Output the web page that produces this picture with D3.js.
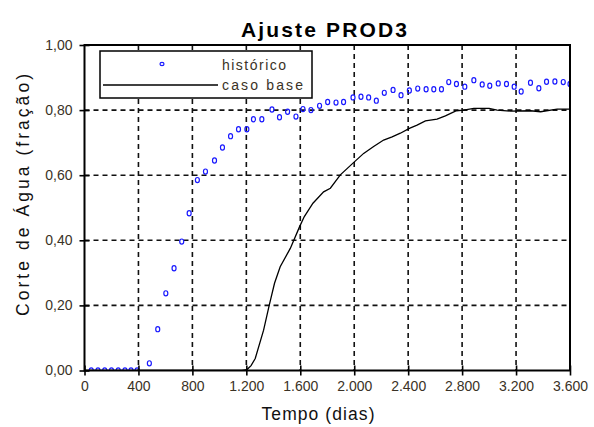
<!DOCTYPE html>
<html><head><meta charset="utf-8">
<script src="https://cdn.jsdelivr.net/npm/d3@7"></script>
<style>body{margin:0;background:#fff}svg{display:block}</style>
</head><body>
<svg id="c" width="594" height="427"></svg>
<script>
const histT = [50,100,150,200,250,300,345,390,481,543,603,664,721,776,837,897,964,1023,1083,1142,1204,1253,1315,1390,1446,1506,1568,1620,1679,1743,1803,1865,1921,1991,2050,2107,2164,2223,2288,2347,2409,2471,2533,2590,2647,2701,2758,2820,2887,2949,3005,3068,3129,3186,3238,3307,3369,3426,3488,3550,3600];
const histV = [0,0,0,0,0,0,0,0,0.022,0.127,0.237,0.314,0.396,0.483,0.585,0.611,0.645,0.685,0.720,0.741,0.741,0.772,0.772,0.802,0.778,0.795,0.780,0.803,0.800,0.813,0.825,0.823,0.825,0.839,0.841,0.839,0.829,0.853,0.862,0.846,0.860,0.866,0.864,0.864,0.864,0.886,0.880,0.872,0.892,0.879,0.875,0.882,0.880,0.872,0.857,0.884,0.867,0.887,0.888,0.886,0.880];
const baseT = [0,1167,1205,1235,1266,1328,1370,1409,1451,1526,1595,1630,1694,1773,1823,1897,2001,2070,2144,2218,2281,2342,2409,2466,2528,2614,2676,2758,2812,2887,3000,3060,3159,3307,3382,3505,3600];
const baseV = [0,0,0.003,0.015,0.037,0.124,0.201,0.268,0.319,0.375,0.442,0.473,0.514,0.549,0.560,0.601,0.641,0.667,0.688,0.708,0.718,0.729,0.744,0.754,0.767,0.772,0.782,0.798,0.800,0.805,0.805,0.800,0.797,0.798,0.795,0.803,0.803];
const xTicks = [0,400,800,1200,1600,2000,2400,2800,3200,3600];
const xLabels = ["0","400","800","1.200","1.600","2.000","2.400","2.800","3.200","3.600"];
const yTicks = [0,0.2,0.4,0.6,0.8,1.0];
const yLabels = ["0,00","0,20","0,40","0,60","0,80","1,00"];
const seriesNames = ["histórico","caso base"];
const titleText = "Ajuste PROD3";
const xTitle = "Tempo (dias)";
const yTitle = "Corte de Água (fração)";

const svg = d3.select("#c");
const L = 84.5, R = 570, T = 45, B = 370.5;
const x = d3.scaleLinear().domain([0,3600]).range([L,R]);
const y = d3.scaleLinear().domain([0,1]).range([B,T]);
const font = "Arial, 'Liberation Sans', sans-serif";
const labCol = "#3a3226";

svg.append("defs").append("clipPath").attr("id","clip")
  .append("rect").attr("x",L).attr("y",T).attr("width",R-L).attr("height",B-T);

// grid
const g = svg.append("g");
g.selectAll("line.vg").data(xTicks.slice(1,-1)).join("line")
  .attr("x1",d=>x(d)).attr("x2",d=>x(d)).attr("y1",T).attr("y2",B)
  .attr("stroke","#111").attr("stroke-width",1.6).attr("stroke-dasharray","5,4");
g.selectAll("line.hg").data(yTicks.slice(1,-1)).join("line")
  .attr("x1",L).attr("x2",R).attr("y1",d=>y(d)).attr("y2",d=>y(d))
  .attr("stroke","#111").attr("stroke-width",1.6).attr("stroke-dasharray","5,4");

// base line
const line = d3.line().x((d,i)=>x(baseT[i])).y((d,i)=>y(baseV[i]));
svg.append("path").datum(baseV).attr("d",line).attr("fill","none")
  .attr("stroke","#000").attr("stroke-width",1.3).attr("clip-path","url(#clip)");

// historic markers
svg.append("g").attr("clip-path","url(#clip)").selectAll("ellipse").data(histV).join("ellipse")
  .attr("cx",(d,i)=>x(histT[i])).attr("cy",d=>y(d)).attr("rx",2).attr("ry",2.6)
  .attr("fill","none").attr("stroke","#1a1aff").attr("stroke-width",1.2);

// frame
svg.append("rect").attr("x",L).attr("y",T).attr("width",R-L).attr("height",B-T)
  .attr("fill","none").attr("stroke","#000").attr("stroke-width",2);

// axes
const xAxis = d3.axisBottom(x).tickValues(xTicks).tickFormat((d,i)=>xLabels[i]).tickSizeInner(6).tickSizeOuter(0).tickPadding(5);
const xa = svg.append("g").attr("transform",`translate(0,${B})`).call(xAxis);
xa.select(".domain").remove();
xa.selectAll(".tick line").attr("y1",-5).attr("y2",5).attr("stroke","#000").attr("stroke-width",1.6);
xa.selectAll("text").attr("font-family",font).attr("font-size",14).attr("fill",labCol);

const yAxis = d3.axisLeft(y).tickValues(yTicks).tickFormat((d,i)=>yLabels[i]).tickSizeInner(5).tickSizeOuter(0).tickPadding(7);
const ya = svg.append("g").attr("transform",`translate(${L},0)`).call(yAxis);
ya.select(".domain").remove();
ya.selectAll(".tick line").attr("x1",-5).attr("x2",5).attr("stroke","#000").attr("stroke-width",1.6);
ya.selectAll("text").attr("font-family",font).attr("font-size",14).attr("fill",labCol);

// titles
svg.append("text").attr("x",324).attr("y",37).attr("text-anchor","middle")
  .attr("font-family",font).attr("font-weight","bold").attr("font-size",21)
  .attr("textLength",166).attr("lengthAdjust","spacing").text(titleText);
svg.append("text").attr("x",318).attr("y",420).attr("text-anchor","middle")
  .attr("font-family",font).attr("font-size",17.5).attr("fill","#111")
  .attr("textLength",113).attr("lengthAdjust","spacing").text(xTitle);
svg.append("text").attr("transform","translate(29,195) rotate(-90)").attr("text-anchor","middle")
  .attr("font-family",font).attr("font-size",17.5).attr("fill","#111")
  .attr("textLength",242).attr("lengthAdjust","spacing").text(yTitle);

// legend
const lg = svg.append("g");
lg.append("rect").attr("x",100).attr("y",51).attr("width",212).attr("height",47)
  .attr("fill","#fff").attr("stroke","#000").attr("stroke-width",1.5);
lg.append("ellipse").attr("cx",162).attr("cy",64).attr("rx",2).attr("ry",1.6)
  .attr("fill","none").attr("stroke","#1a1aff").attr("stroke-width",1.2);
lg.append("line").attr("x1",103).attr("x2",218).attr("y1",85).attr("y2",85)
  .attr("stroke","#000").attr("stroke-width",1.3);
lg.selectAll("text").data(seriesNames).join("text")
  .attr("x",222).attr("y",(d,i)=>i?90:70).attr("font-family",font).attr("font-size",14)
  .attr("textLength",(d,i)=>i?81:64).attr("lengthAdjust","spacing")
  .attr("fill",labCol).text(d=>d);
</script>
</body></html>
